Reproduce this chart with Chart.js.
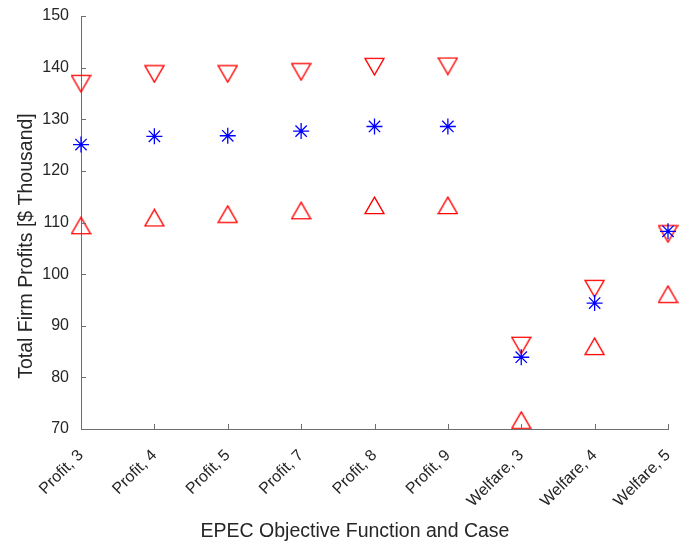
<!DOCTYPE html>
<html>
<head>
<meta charset="utf-8">
<script src="https://cdn.jsdelivr.net/npm/chart.js@4/dist/chart.umd.min.js"></script>
<style>
  html, body { margin: 0; padding: 0; background: #ffffff; }
  #wrap { width: 690px; height: 542px; }
</style>
</head>
<body>
<div id="wrap"><canvas id="c" width="690" height="542"></canvas></div>
<script>
// ---- data ----
const categories = ['Profit, 3', 'Profit, 4', 'Profit, 5', 'Profit, 7', 'Profit, 8', 'Profit, 9', 'Welfare, 3', 'Welfare, 4', 'Welfare, 5'];
const upperValues = [136.9, 138.8, 138.8, 139.2, 140.2, 140.3, 86.2, 97.2, 107.8];   // down triangles
const middleValues = [125.1, 126.7, 126.8, 127.7, 128.6, 128.6, 83.9, 94.4, 108.3];  // asterisks
const lowerValues = [109.4, 110.9, 111.6, 112.3, 113.3, 113.3, 71.7, 86.0, 96.1];    // up triangles
const yTicks = [70, 80, 90, 100, 110, 120, 130, 140, 150];
const xTitle = 'EPEC Objective Function and Case';
const yTitle = 'Total Firm Profits [$ Thousand]';

// ---- marker images (bbox-centred triangles like MATLAB) ----
function triangleMarker(up) {
  const cv = document.createElement('canvas');
  cv.width = 21; cv.height = 19;
  const g = cv.getContext('2d');
  g.strokeStyle = '#ff0000';
  g.lineWidth = 1.4;
  g.beginPath();
  if (up) {
    g.moveTo(10.5, 1.2); g.lineTo(20, 17.6); g.lineTo(1, 17.6);
  } else {
    g.moveTo(1, 1.4); g.lineTo(20, 1.4); g.lineTo(10.5, 17.8);
  }
  g.closePath();
  g.stroke();
  return cv;
}
const downTri = triangleMarker(false);
const upTri = triangleMarker(true);

const FONT = "'Liberation Sans', Arial, Helvetica, sans-serif";
const TXT = '#262626';
const AXIS = '#6e6e6e';

// inner tick marks and axis titles placed like the MATLAB figure
const matlabAxes = {
  id: 'matlabAxes',
  afterDatasetsDraw(chart) {
    const {ctx, chartArea: a, scales: {x, y}} = chart;
    ctx.save();
    ctx.strokeStyle = AXIS;
    ctx.lineWidth = 1;
    ctx.beginPath();
    yTicks.forEach(v => {
      const py = Math.round(y.getPixelForValue(v)) + 0.5;
      ctx.moveTo(a.left, py); ctx.lineTo(a.left + 5, py);
    });
    categories.forEach((c, i) => {
      const px = Math.round(x.getPixelForValue(i)) + 0.5;
      ctx.moveTo(px, a.bottom); ctx.lineTo(px, a.bottom - 5);
    });
    ctx.stroke();
    // axis titles
    ctx.fillStyle = TXT;
    ctx.font = '19.5px ' + FONT;
    ctx.textAlign = 'center';
    ctx.textBaseline = 'alphabetic';
    ctx.fillText(xTitle, 355, 537);
    ctx.translate(31.5, 246);
    ctx.rotate(-Math.PI / 2);
    ctx.fillText(yTitle, 0, 0);
    ctx.restore();
  }
};

function noPad(s) { s.paddingTop = 0; s.paddingBottom = 0; s.paddingLeft = 0; s.paddingRight = 0; }

new Chart(document.getElementById('c'), {
  type: 'line',
  data: {
    labels: categories,
    datasets: [
      {
        label: 'Mean',
        data: middleValues,
        showLine: false,
        pointStyle: 'star',
        pointRadius: 8,
        pointBorderColor: '#0000ff',
        pointBackgroundColor: '#0000ff',
        pointBorderWidth: 1.3
      },
      {
        label: 'Upper',
        data: upperValues,
        showLine: false,
        pointStyle: downTri,
        pointRadius: 10,
        pointBorderColor: '#ff0000'
      },
      {
        label: 'Lower',
        data: lowerValues,
        showLine: false,
        pointStyle: upTri,
        pointRadius: 10,
        pointBorderColor: '#ff0000'
      }
    ]
  },
  options: {
    responsive: false,
    animation: false,
    devicePixelRatio: 1,
    layout: { padding: { top: 16, right: 22, left: 0, bottom: 0 } },
    plugins: { legend: { display: false }, tooltip: { enabled: false } },
    scales: {
      x: {
        type: 'category',
        offset: false,
        grid: { display: false, drawTicks: false },
        border: { display: true, color: AXIS, width: 1 },
        ticks: {
          autoSkip: false, maxRotation: 45, minRotation: 45,
          color: TXT, padding: 17,
          font: { family: FONT, size: 16 }
        },
        title: { display: false, text: xTitle },
        afterFit(s) { s.height = 113; noPad(s); }
      },
      y: {
        min: 70, max: 150,
        grid: { display: false, drawTicks: false },
        border: { display: true, color: AXIS, width: 1 },
        afterBuildTicks(s) { s.ticks = yTicks.map(v => ({ value: v })); },
        ticks: {
          color: TXT, padding: 12,
          font: { family: FONT, size: 16 }
        },
        title: { display: false, text: yTitle },
        afterFit(s) { s.width = 81; noPad(s); }
      }
    }
  },
  plugins: [matlabAxes]
});
</script>
</body>
</html>
